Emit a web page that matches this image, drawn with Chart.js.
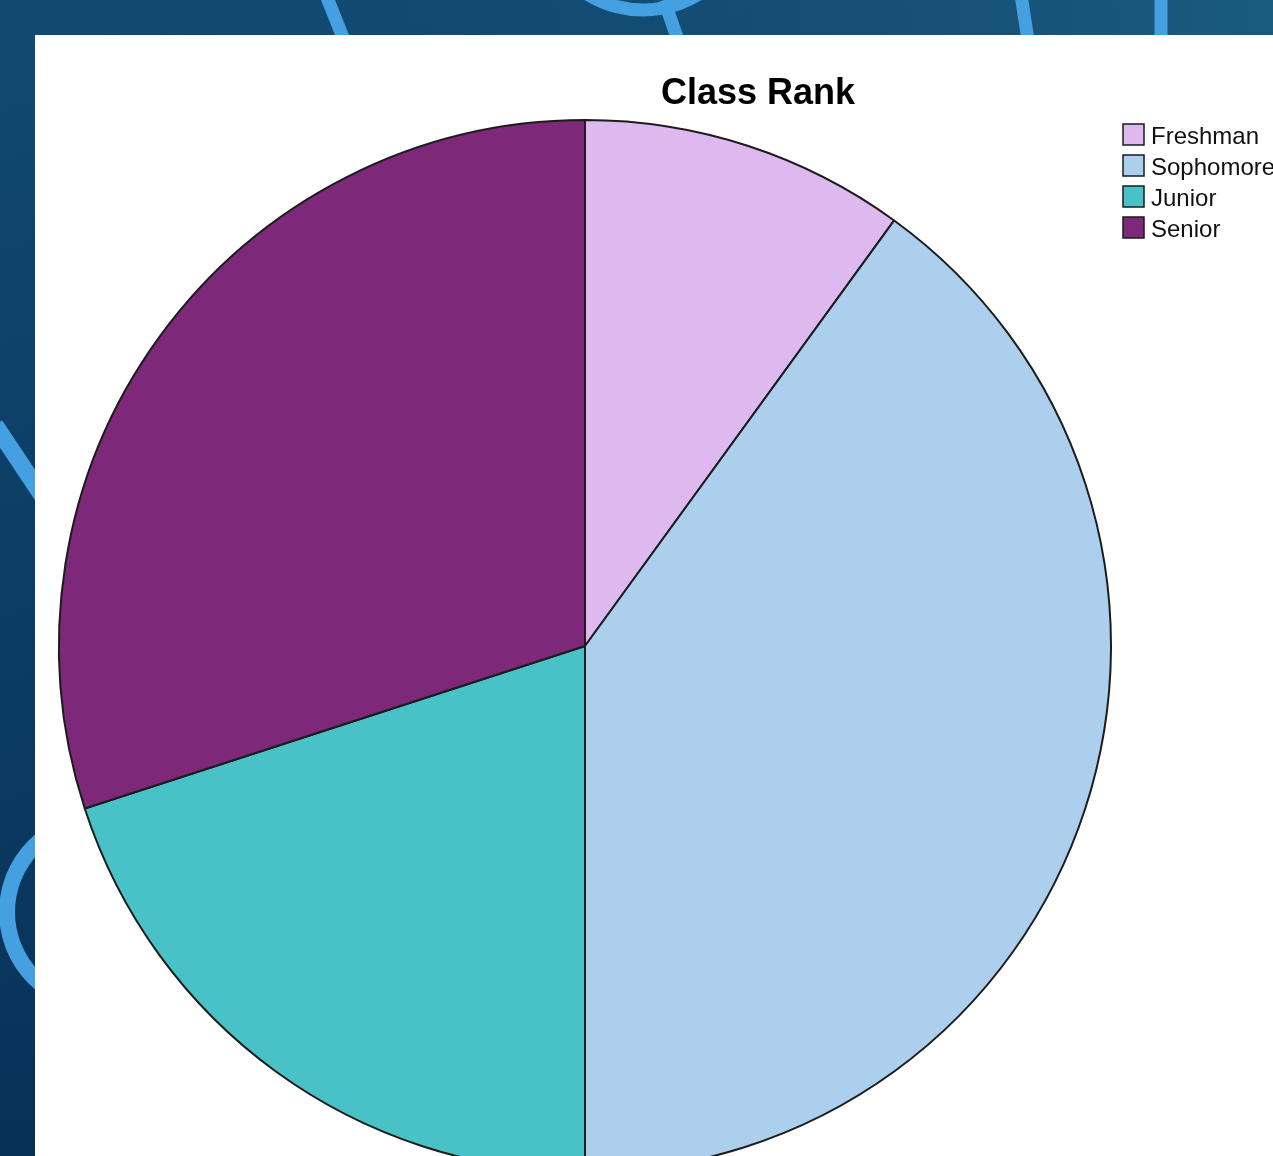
<!DOCTYPE html>
<html>
<head>
<meta charset="utf-8">
<script src="https://cdn.jsdelivr.net/npm/chart.js@4"></script>
<style>
  html, body { margin: 0; padding: 0; overflow: hidden; background: #0c3f66; }
  #wrap { width: 1273px; height: 1156px; position: relative; }
</style>
</head>
<body>
<div id="wrap"><canvas id="myChart" width="1273" height="1156"></canvas></div>
<script>
// data (percent of students)
let classLabels = ['Freshman', 'Sophomore', 'Junior', 'Senior'];
let classValues = [10, 40, 20, 30];
let classColors = ['#ddb9ef', '#abcfec', '#48c2c6', '#7d2879'];

// page backdrop: blue slide with light curves and a white panel
const backdrop = {
    id: 'backdrop',
    beforeDraw(chart) {
        const c = chart.ctx;
        c.save();
        let g = c.createLinearGradient(0, 0, 300, 1156);
        g.addColorStop(0, '#104a72');
        g.addColorStop(1, '#082f56');
        c.fillStyle = g;
        c.fillRect(0, 0, chart.width, chart.height);
        let g2 = c.createLinearGradient(0, 0, 1273, 0);
        g2.addColorStop(0, 'rgba(16,74,114,0)');
        g2.addColorStop(1, '#1b5a80');
        c.fillStyle = g2;
        c.fillRect(0, 0, chart.width, 40);

        c.strokeStyle = '#45a0e2';
        c.lineCap = 'butt';
        c.lineWidth = 13;
        c.beginPath(); c.moveTo(326, -5); c.lineTo(344, 40); c.stroke();
        c.beginPath(); c.arc(643, -96, 106, 0.2 * Math.PI, 0.95 * Math.PI); c.stroke();
        c.beginPath(); c.moveTo(664, 0); c.lineTo(678, 40); c.stroke();
        c.beginPath(); c.moveTo(1021, -5); c.lineTo(1028, 40); c.stroke();
        c.beginPath(); c.moveTo(1161, -5); c.lineTo(1161, 40); c.stroke();
        c.lineWidth = 17;
        c.beginPath(); c.moveTo(-5, 425); c.lineTo(45, 500); c.stroke();
        c.lineWidth = 16;
        c.beginPath(); c.arc(100, 912, 93, 0, 2 * Math.PI); c.stroke();

        c.fillStyle = '#ffffff';
        c.fillRect(35, 35, chart.width - 35, chart.height - 35);
        c.restore();
    },
    afterDraw(chart) {
        const c = chart.ctx;
        c.save();
        c.fillStyle = '#000000';
        c.font = 'bold 36px "Liberation Sans", Arial, sans-serif';
        c.textAlign = 'center';
        c.textBaseline = 'alphabetic';
        c.fillText('Class Rank', 758, 104);

        c.font = '24px "Liberation Sans", Arial, sans-serif';
        c.textAlign = 'left';
        classLabels.forEach((lab, i) => {
            let y = 124 + i * 31;
            c.fillStyle = classColors[i];
            c.fillRect(1123, y, 21, 21);
            c.strokeStyle = '#1a1a1a';
            c.lineWidth = 1.5;
            c.strokeRect(1123, y, 21, 21);
            c.fillStyle = '#111111';
            c.fillText(lab, 1151, y + 20);
        });
        c.restore();
    }
};

let ctx = document.getElementById('myChart').getContext('2d');
let pieChart = new Chart(ctx, {
    type: 'pie',
    data: {
        labels: classLabels,
        datasets: [{
            data: classValues,
            backgroundColor: classColors,
            borderColor: '#1c1c1c',
            borderWidth: 2,
            clip: false
        }]
    },
    options: {
        responsive: false,
        animation: false,
        radius: 526,
        layout: { padding: { left: 0, right: 103, top: 136, bottom: 0 } },
        plugins: {
            legend: { display: false },
            title: { display: false },
            tooltip: { enabled: false }
        }
    },
    plugins: [backdrop]
});
</script>
</body>
</html>
